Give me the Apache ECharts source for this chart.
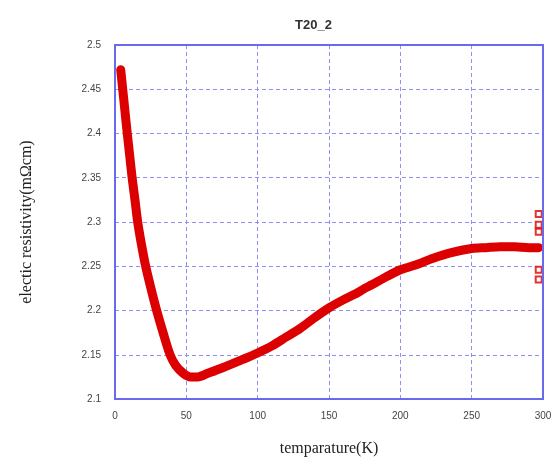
<!DOCTYPE html>
<html lang="en">
<head>
<meta charset="utf-8">
<title>T20_2</title>
<script src="https://cdn.jsdelivr.net/npm/echarts@6/dist/echarts.min.js"></script>
<style>
	html, body { margin: 0; padding: 0; background: #fff; }
	#main { width: 552px; height: 459px; }
</style>
</head>
<body>
<div id="main"></div>
<script>
// temperature (K) and resistivity (mOhm cm)
var temps = [4, 5.4, 7, 8.6, 10.3, 12, 14, 15.9, 18.5, 21.5, 25.2, 29.2, 33.7, 38.6, 42.5, 47.9, 53, 58, 65, 75, 90, 100, 110, 120, 130, 140, 150, 160, 170, 175, 180, 190, 200, 210, 223, 235, 250, 260, 270, 280, 290, 297];
var rho = [2.472, 2.45, 2.425, 2.40, 2.375, 2.35, 2.325, 2.30, 2.275, 2.25, 2.225, 2.20, 2.175, 2.15, 2.138, 2.129, 2.125, 2.125, 2.129, 2.135, 2.145, 2.152, 2.160, 2.170, 2.180, 2.192, 2.203, 2.212, 2.220, 2.225, 2.229, 2.238, 2.246, 2.251, 2.259, 2.265, 2.270, 2.271, 2.272, 2.272, 2.271, 2.271];

// scattered points at the last temperature
var outT = [297, 297, 297, 297, 297];
var outRho = [2.309, 2.297, 2.289, 2.246, 2.235];

var xTicks = { min: 0, max: 300, step: 50 };
var yTicks = { min: 2.1, max: 2.5, step: 0.05 };

var red = '#dc0000';
var lineData = temps.map(function (t, i) { return [t, rho[i]]; });
var outData = outT.map(function (t, i) { return [t, outRho[i]]; });

var myChart = echarts.init(document.getElementById('main'));
var option = {
	animation: false,
	title: {
		text: 'T20_2',
		left: 290,
		top: 14,
		textStyle: { fontFamily: 'Liberation Sans', fontSize: 13, fontWeight: 'bold', color: '#333' }
	},
	grid: { left: 115, right: 9, top: 45, bottom: 60, outerBoundsMode: 'none', containLabel: false },
	xAxis: {
		type: 'value',
		min: xTicks.min, max: xTicks.max, interval: xTicks.step,
		name: 'temparature(K)',
		nameLocation: 'middle',
		nameGap: 42,
		nameTextStyle: { fontFamily: 'Liberation Serif', fontSize: 16, color: '#222' },
		axisLine: { show: true, lineStyle: { color: '#6a6aee', width: 2 } },
		axisTick: { show: false },
		axisLabel: { fontFamily: 'Liberation Sans', fontSize: 10, color: '#444', margin: 12 },
		splitLine: { show: true, lineStyle: { color: '#9090f2', type: [4, 3], width: 1 } }
	},
	yAxis: {
		type: 'value',
		min: yTicks.min, max: yTicks.max, interval: yTicks.step,
		name: 'electic resistivity(m\u03a9cm)',
		nameLocation: 'middle',
		nameGap: 80,
		nameTextStyle: { fontFamily: 'Liberation Serif', fontSize: 16, color: '#222' },
		axisLine: { show: true, lineStyle: { color: '#6a6aee', width: 2 } },
		axisTick: { show: false },
		axisLabel: {
			fontFamily: 'Liberation Sans', fontSize: 10, color: '#444', margin: 14,
			formatter: function (v) { return String(+v.toFixed(2)); }
		},
		splitLine: { show: true, lineStyle: { color: '#9090f2', type: [4, 3], width: 1 } }
	},
	series: [
		{
			type: 'line',
			data: lineData,
			smooth: 0.3,
			symbol: 'none',
			lineStyle: { color: red, width: 9, cap: 'round', join: 'round' },
			z: 3
		},
		{
			type: 'scatter',
			data: outData,
			symbol: 'emptyRect',
			symbolSize: 6,
			itemStyle: { color: red, borderColor: red, borderWidth: 1.5 },
			z: 4
		}
	]
};
myChart.setOption(option);
// right and top frame
myChart.setOption({
	graphic: [{
		type: 'rect',
		shape: { x: 115, y: 45, width: 428, height: 354 },
		style: { fill: 'none', stroke: '#6a6aee', lineWidth: 2 },
		silent: true, z: 10
	}]
});
</script>
</body>
</html>
